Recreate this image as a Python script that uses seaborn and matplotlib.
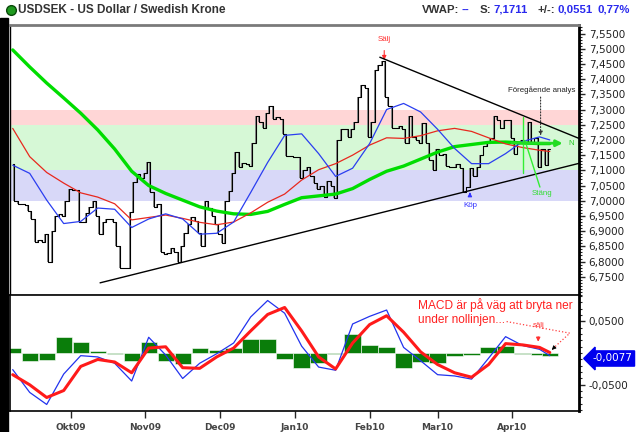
import matplotlib
matplotlib.use("Agg")
import matplotlib.pyplot as plt
import matplotlib.ticker as mticker
from matplotlib.patches import Rectangle
from matplotlib.lines import Line2D
import numpy as np
import seaborn as sns

# daily closes, USDSEK, mid Sep 2009 -> mid Apr 2010 (trading day index)
close = [
    7.12, 7.00, 6.99, 6.99, 6.985, 6.965, 6.94, 6.865, 6.87, 6.865,
    6.89, 6.80, 6.90, 6.95, 6.955, 6.95, 7.00, 7.04, 7.035, 7.035,
    6.93, 6.93, 6.96, 6.98, 7.00, 6.95, 6.89, 6.93, 6.94, 6.94,
    6.93, 6.85, 6.78, 6.778, 6.78, 6.964, 7.062, 7.088, 7.075, 7.09,
    7.126, 7.03, 6.98, 6.99, 6.83, 6.825, 6.827, 6.845, 6.83, 6.80,
    6.85, 6.893, 6.925, 6.945, 6.935, 6.893, 6.85, 7.00, 6.975, 6.95,
    6.925, 6.89, 6.86, 7.00, 7.033, 7.09, 7.16, 7.11, 7.125, 7.12,
    7.115, 7.19, 7.28, 7.26, 7.24, 7.29, 7.31, 7.27, 7.275, 7.27,
    7.22, 7.148, 7.147, 7.145, 7.145, 7.074, 7.10, 7.11, 7.08, 7.06,
    7.04, 7.05, 7.013, 7.065, 7.05, 7.008, 7.20, 7.235, 7.235, 7.21,
    7.235, 7.26, 7.34, 7.38, 7.37, 7.21, 7.26, 7.43, 7.446, 7.46,
    7.34, 7.31, 7.24, 7.24, 7.245, 7.235, 7.19, 7.28, 7.21, 7.20,
    7.19, 7.255, 7.19, 7.135, 7.10, 7.17, 7.15, 7.155, 7.115, 7.11,
    7.11, 7.12, 7.107, 7.03, 7.045, 7.107, 7.08, 7.11, 7.15, 7.18,
    7.19, 7.205, 7.278, 7.265, 7.24, 7.265, 7.265, 7.205, 7.155, 7.19,
    7.20, 7.19, 7.26, 7.19, 7.205, 7.11, 7.17, 7.116, 7.171,
]

# moving averages / MACD read every 5 trading days
ma_days = list(range(0, 156, 5)) + [158]
ma_long = [7.496, 7.44, 7.387, 7.338, 7.288, 7.233, 7.17, 7.097, 7.05, 7.024,
           7.002, 6.98, 6.966, 6.957, 6.955, 6.965, 6.988, 7.01, 7.016, 7.022,
           7.04, 7.07, 7.097, 7.114, 7.137, 7.16, 7.178, 7.185, 7.192, 7.193,
           7.19, 7.188, 7.188]
ma_mid = [7.238, 7.145, 7.093, 7.058, 7.026, 7.012, 6.99, 6.937, 6.945, 6.953,
          6.942, 6.929, 6.921, 6.93, 6.96, 6.995, 7.022, 7.068, 7.102, 7.122,
          7.15, 7.183, 7.207, 7.205, 7.214, 7.23, 7.238, 7.228, 7.207, 7.187,
          7.175, 7.166, 7.162]
ma_short = [7.117, 7.09, 7.002, 6.925, 6.932, 6.976, 6.972, 6.912, 6.94, 6.957,
            6.94, 6.89, 6.893, 6.93, 7.027, 7.126, 7.215, 7.22, 7.155, 7.08,
            7.107, 7.188, 7.30, 7.32, 7.292, 7.235, 7.172, 7.122, 7.122, 7.155,
            7.195, 7.21, 7.20]
macd_line = [-0.026, -0.062, -0.081, -0.033, -0.004, -0.006, -0.016, -0.044, 0.025, -0.003,
             -0.040, -0.016, -0.001, 0.016, 0.057, 0.083, 0.063, 0.011, -0.022, -0.027,
             0.046, 0.058, 0.068, 0.009, -0.012, -0.034, -0.036, -0.041, -0.008, 0.026,
             0.012, 0.006, -0.004]
macd_signal = [-0.034, -0.050, -0.070, -0.059, -0.021, -0.010, -0.014, -0.031, 0.008, 0.010,
               -0.023, -0.024, -0.006, 0.008, 0.035, 0.061, 0.072, 0.035, -0.006, -0.025,
               0.016, 0.045, 0.059, 0.033, 0.002, -0.018, -0.031, -0.038, -0.018, 0.015,
               0.013, 0.009, 0.001]

month_pos = [17, 39, 61, 83, 105, 125, 147]
month_labels = ["Okt09", "Nov09", "Dec09", "Jan10", "Feb10", "Mar10", "Apr10"]
bands = [(7.25, 7.30, "#ffd6d6"), (7.10, 7.25, "#d6f8d6"), (7.00, 7.10, "#d8d8f8")]
last_macd = -0.0077

sns.set_style("white")
plt.rcParams["font.family"] = ["DejaVu Sans"]

W, H = 639, 432
fig = plt.figure(figsize=(W / 100, H / 100), dpi=100)
ax = fig.add_axes([10 / W, (H - 295) / H, 569 / W, 270 / H])
ax2 = fig.add_axes([10 / W, (H - 411) / H, 569 / W, 116 / H])

fig.add_artist(Rectangle((0, 0), 8 / W, (H - 18) / H, transform=fig.transFigure,
                         color="black", zorder=0))

days = np.arange(len(close))
xlim = (-0.8, 166.6)
fmt = mticker.FuncFormatter(lambda v, p: f"{v:.4f}".replace(".", ","))

# --- price panel ---
for lo, hi, c in bands:
    ax.axhspan(lo, hi, color=c, lw=0, zorder=0)

prev = np.array(close[:-1])
cur = np.array(close[1:])
ax.bar(days[1:] - 0.5, np.abs(cur - prev), bottom=np.minimum(prev, cur), width=0.55,
       color="#8c8c8c", lw=0, zorder=2)
sns.lineplot(x=days, y=close, ax=ax, drawstyle="steps-mid", color="black", lw=0.8,
             estimator=None, zorder=3)
sns.lineplot(x=ma_days, y=ma_long, ax=ax, color="#00dd00", lw=2.4, estimator=None, zorder=4)
sns.lineplot(x=ma_days, y=ma_mid, ax=ax, color="#e8281e", lw=0.9, estimator=None, zorder=4)
sns.lineplot(x=ma_days, y=ma_short, ax=ax, color="#2a3ef0", lw=0.9, estimator=None, zorder=4)

# trend lines
ax.plot([108, 166.6], [7.472, 7.205], color="black", lw=1, zorder=5)
ax.plot([25.7, 166.6], [6.730, 7.123], color="black", lw=1, zorder=5)

small = dict(family="Liberation Sans", fontsize=5.7, ha="center", va="center")
ax.annotate("Sälj", xy=(109.3, 7.463), xytext=(109.3, 7.53), color="#ff3030", **small,
            arrowprops=dict(arrowstyle="-|>", color="#ff3030", lw=0.8, shrinkA=3,
                            shrinkB=0, mutation_scale=6))
ax.annotate("Köp", xy=(134.5, 7.028), xytext=(134.5, 6.985), color="#3030ff", **small,
            arrowprops=dict(arrowstyle="-|>", color="#3030ff", lw=0.8, shrinkA=3,
                            shrinkB=0, mutation_scale=6))
ax.plot([150.2, 150.2], [7.09, 7.275], color="#33ee33", lw=1, zorder=6)
ax.plot([150.7, 155.1], [7.198, 7.045], color="#33ee33", lw=1, zorder=6)
ax.text(155.6, 7.025, "Stäng", color="#33dd33", **small)
ax.annotate("", xy=(162.6, 7.189), xytext=(146, 7.19),
            arrowprops=dict(arrowstyle="-|>", color="#22dd22", lw=2, mutation_scale=9),
            zorder=6)
ax.text(164.4, 7.189, "N", color="#22cc22", **small)
ax.text(155.7, 7.364, "Föregående analys", color="#222222", **small)
ax.annotate("", xy=(155.3, 7.205), xytext=(155.3, 7.35),
            arrowprops=dict(arrowstyle="-|>", ls=":", color="#333333", lw=0.8,
                            mutation_scale=6))

ax.set_xlim(*xlim)
ax.set_ylim(6.690, 7.578)
ax.set_xticks([])
ax.set_xlabel("")
ax.set_ylabel("")
ax.yaxis.tick_right()
ax.set_yticks(np.arange(6.75, 7.5501, 0.05))
ax.yaxis.set_minor_locator(mticker.MultipleLocator(0.01))
ax.yaxis.set_major_formatter(fmt)
ax.tick_params(axis="y", which="major", direction="out", length=4, width=1,
               labelsize=7.5, labelcolor="#222222", pad=3, right=True, left=False)
ax.tick_params(axis="y", which="minor", direction="out", length=2, width=0.8, right=True)
for s in ["left", "bottom"]:
    ax.spines[s].set_color("black")
    ax.spines[s].set_linewidth(1)
ax.spines["top"].set_color("#7a7a7a")
ax.spines["top"].set_linewidth(2)
ax.spines["right"].set_color("black")
ax.spines["right"].set_linewidth(2)

# --- MACD panel ---
hist = np.array(macd_line) - np.array(macd_signal)
ax2.bar(ma_days, hist, width=4.8, color="#0a7d0a", edgecolor="white", lw=0.4, zorder=2)
sns.lineplot(x=ma_days, y=macd_line, ax=ax2, color="#2233ee", lw=0.9, estimator=None, zorder=3)
sns.lineplot(x=ma_days, y=macd_signal, ax=ax2, color="#ff1a1a", lw=2.2, estimator=None, zorder=4)

note = dict(color="#ff2020", fontsize=8.6, family="Liberation Sans", ha="left", va="center")
ax2.text(119.2, 0.0762, "MACD är på väg att bryta ner", **note)
ax2.text(119.2, 0.0525, "under nollinjen...", **note)
ax2.plot([145.3, 163.9, 159.6], [0.0498, 0.0315, 0.0105], ls=":", color="#ff4040", lw=0.9)
ax2.annotate("", xy=(158.6, 0.005), xytext=(159.6, 0.0105),
             arrowprops=dict(arrowstyle="-|>", color="black", lw=0.6, mutation_scale=6))
ax2.annotate("sälj", xy=(154.6, 0.018), xytext=(154.6, 0.043), color="#ff3030",
             family="Liberation Sans", fontsize=5.7, ha="center", va="center",
             arrowprops=dict(arrowstyle="-|>", color="#ff3030", lw=0.8, shrinkA=3,
                             shrinkB=0, mutation_scale=6))

ax2.set_xlim(*xlim)
ax2.set_ylim(-0.0913, 0.0917)
ax2.set_xlabel("")
ax2.set_ylabel("")
ax2.set_xticks(month_pos)
ax2.set_xticklabels(month_labels)
ax2.tick_params(axis="x", direction="out", length=5, width=1, labelsize=6.5,
                labelcolor="#444444", pad=4, bottom=True)
for lab in ax2.get_xticklabels():
    lab.set_fontweight("bold")
ax2.yaxis.tick_right()
ax2.set_yticks([-0.05, 0.05])
ax2.yaxis.set_minor_locator(mticker.MultipleLocator(0.01))
ax2.yaxis.set_major_formatter(fmt)
ax2.tick_params(axis="y", which="major", direction="out", length=4, width=1,
                labelsize=7.5, labelcolor="#222222", pad=3, right=True, left=False)
ax2.tick_params(axis="y", which="minor", direction="out", length=2, width=0.8, right=True)
for s in ["left", "bottom", "top"]:
    ax2.spines[s].set_color("black")
    ax2.spines[s].set_linewidth(1.2)
ax2.spines["right"].set_color("black")
ax2.spines["right"].set_linewidth(2)

fig.text(612 / W, (H - 358.5) / H, f"{last_macd:.4f}".replace(".", ","), color="white",
         fontsize=7.5, ha="center", va="center",
         bbox=dict(boxstyle="larrow,pad=0.25", fc="#0000ee", ec="#0000ee"))

# --- header ---
fig.add_artist(Line2D([11 / W], [1 - 10 / H], marker="o", ms=7, mfc="#1f9a1f",
                      mec="#0a4a0a", transform=fig.transFigure))
fig.text(18 / W, 1 - 10 / H, "USDSEK - US Dollar / Swedish Krone", fontsize=8.5,
         weight="bold", family="Liberation Sans", color="#333333", va="center")
hdr = [(421.7, "VWAP:", "#333333"), (462, "--", "#2a2aee"), (480, "S:", "#333333"),
       (493, "7,1711", "#2a2aee"), (537, "+/-:", "#333333"), (557, "0,0551", "#2a2aee"),
       (598, "0,77%", "#2a2aee")]
for x, t, c in hdr:
    fig.text(x / W, 1 - 10 / H, t, fontsize=8.2, weight="bold", family="Liberation Sans",
             color=c, va="center", ha="left")

fig.savefig("out.png", dpi=100)
